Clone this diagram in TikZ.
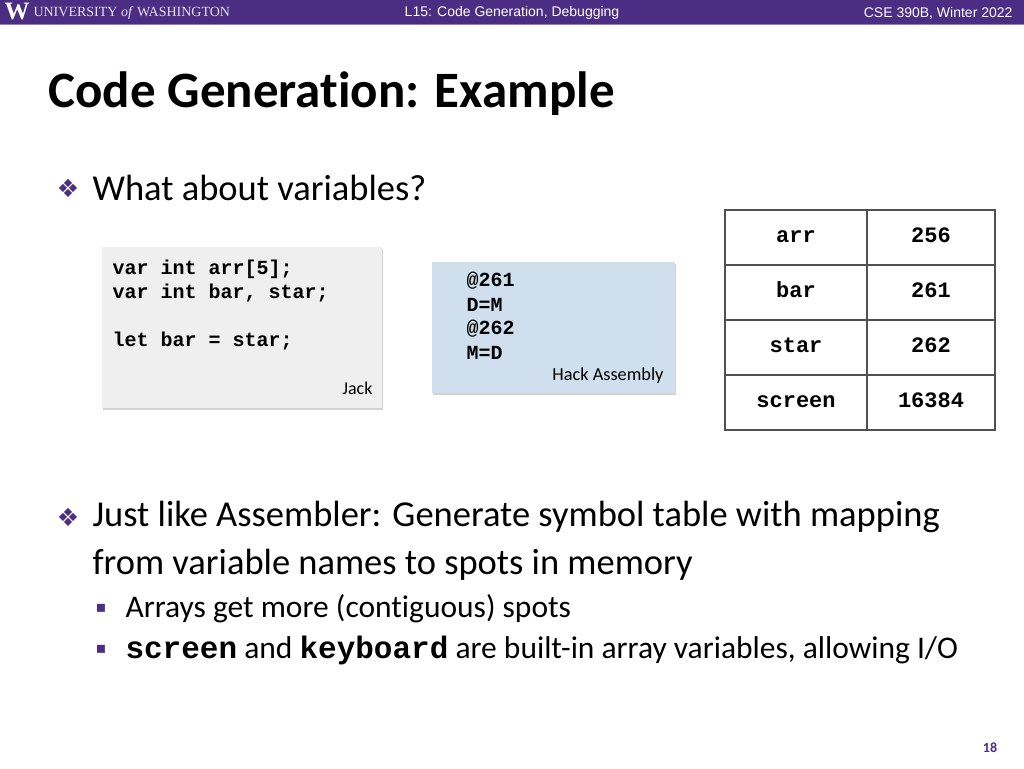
\documentclass[tikz,border=0pt]{standalone}
\usepackage{fontspec}
\setmainfont[Ligatures=NoCommon]{Carlito}
\newfontfamily\hdrfont{Liberation Sans}
\newfontfamily\codefont{Liberation Mono}
\newfontfamily\symfont{DejaVu Sans}
\newfontfamily\uwfont{Liberation Serif}
\usetikzlibrary{shadows}
\definecolor{uwpurple}{RGB}{75,46,131}
\definecolor{jackgray}{RGB}{239,239,239}
\definecolor{hackblue}{RGB}{207,223,238}
\definecolor{tblgray}{RGB}{80,80,80}
\tikzset{
  codebox/.style={rectangle, draw=none, drop shadow={opacity=0.35, shadow xshift=1pt, shadow yshift=-2pt}},
  code/.style={anchor=west, font=\codefont\bfseries\fontsize{20}{20}\selectfont},
  cell/.style={rectangle, draw=tblgray, line width=2.5pt, minimum width=142pt, minimum height=55pt, text height=12pt, text depth=3pt, font=\codefont\bfseries\fontsize{22}{22}\selectfont},
  bullettext/.style={anchor=west, font=\fontsize{36.5}{36.5}\selectfont},
  subtext/.style={anchor=west, font=\fontsize{31.5}{31.5}\selectfont}
}
\begin{document}
\begin{tikzpicture}[x=1pt,y=-1pt]
\useasboundingbox (0,0) rectangle (1024,768);

% Header
\fill[uwpurple] (0,0) rectangle (1024,25);
\draw[uwpurple!60, line width=1pt] (0,25) -- (1024,25);
\node (uwW) [anchor=west, text=white, font=\uwfont\bfseries\fontsize{25}{25}\selectfont] at (1,12) {W};
\node (uwname) [anchor=west, text=white!85!uwpurple, font=\uwfont\fontsize{14}{14}\selectfont] at (30,13) {UNIVERSITY \textit{of} WASHINGTON};
\node (lecture) [text=white, font=\hdrfont\fontsize{14}{14}\selectfont] at (512,13) {L15: Code Generation, Debugging};
\node (course) [anchor=east, text=white, font=\hdrfont\fontsize{14}{14}\selectfont] at (1016,13) {CSE 390B, Winter 2022};

% Title
\node (title) [anchor=west, font=\bfseries\fontsize{51}{51}\selectfont] at (45,94) {Code Generation: Example};

% First bullet
\node (b1) [text=uwpurple, font=\symfont\fontsize{25}{25}\selectfont] at (68,188) {❖};
\node (b1text) [bullettext] at (89,188) {What about variables?};

% Jack box
\node (jack) [codebox, fill=jackgray, minimum width=280pt, minimum height=161pt] at (242,327.5) {};
\node (j1) [code] at (109,269) {var int arr[5];};
\node (j2) [code] at (109,293) {var int bar, star;};
\node (j3) [code] at (109,341) {let bar = star;};
\node (jacklbl) [anchor=east, font=\fontsize{18}{18}\selectfont] at (376,388) {Jack};

% Hack box
\node (hack) [codebox, fill=hackblue, minimum width=243pt, minimum height=131pt] at (553.5,327.5) {};
\node (h1) [code] at (463,281) {@261};
\node (h2) [code] at (463,305) {D=M};
\node (h3) [code] at (463,329) {@262};
\node (h4) [code] at (463,353) {M=D};
\node (hacklbl) [anchor=east, font=\fontsize{18.3}{18.3}\selectfont] at (667,376) {Hack Assembly};

% Symbol table
\node (arrN) [cell] at (796,237.5) {arr};
\node (arrV) [cell, minimum width=128pt] at (931,237.5) {256};
\node (barN) [cell] at (796,292.5) {bar};
\node (barV) [cell, minimum width=128pt] at (931,292.5) {261};
\node (starN) [cell] at (796,347.5) {star};
\node (starV) [cell, minimum width=128pt] at (931,347.5) {262};
\node (scrN) [cell] at (796,402.5) {screen};
\node (scrV) [cell, minimum width=128pt] at (931,402.5) {16384};

% Second bullet
\node (b2) [text=uwpurple, font=\symfont\fontsize{25}{25}\selectfont] at (68,517) {❖};
\node (b2text) [bullettext] at (89,517) {Just like Assembler: Generate symbol table with mapping};
\node (b2text2) [bullettext] at (89,565) {from variable names to spots in memory};

% Sub-bullets
\node (s1) [text=uwpurple, font=\symfont\fontsize{16}{16}\selectfont] at (101,608) {▪};
\node (s1text) [subtext] at (122,609) {Arrays get more (contiguous) spots};
\node (s2) [text=uwpurple, font=\symfont\fontsize{16}{16}\selectfont] at (101,649) {▪};
\node (s2text) [subtext] at (122,650) {{\codefont\bfseries\fontsize{31}{31}\selectfont screen} and {\codefont\bfseries\fontsize{31}{31}\selectfont keyboard} are built-in array variables, allowing I/O};

% Page number
\node (page) [text=uwpurple, font=\bfseries\fontsize{14}{14}\selectfont] at (990,748) {18};
\end{tikzpicture}
\end{document}
